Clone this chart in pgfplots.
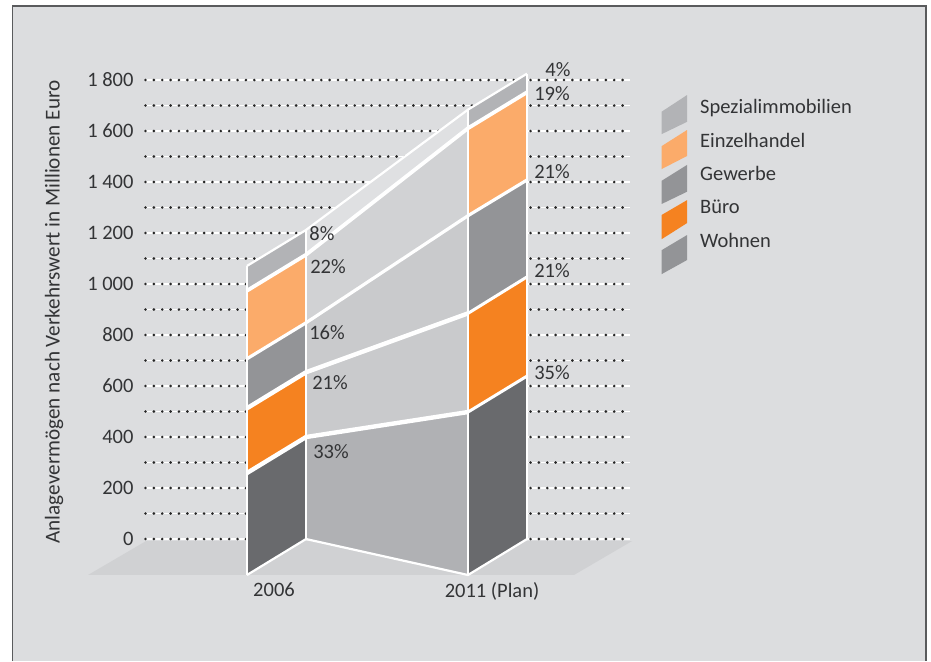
\documentclass[border=0pt]{standalone}
\usepackage{pgfplots}
\pgfplotsset{compat=1.18}
\usepackage{fontspec}
\setmainfont{Carlito}
\definecolor{panel}{HTML}{DCDDDF}
\definecolor{frameline}{HTML}{5A5B5D}
\definecolor{floorc}{HTML}{D0D1D3}
\definecolor{ink}{HTML}{333436}
\definecolor{wohnen}{HTML}{696A6D}
\definecolor{buero}{HTML}{F58220}
\definecolor{gewerbe}{HTML}{939497}
\definecolor{handel}{HTML}{FBAB6A}
\definecolor{spezial}{HTML}{B2B3B6}
\definecolor{wohnenR}{HTML}{B0B1B4}
\definecolor{bueroR}{HTML}{C9CACC}
\definecolor{gewerbeR}{HTML}{C9CACC}
\definecolor{handelR}{HTML}{D1D2D4}
\definecolor{spezialR}{HTML}{DFE0E2}
\newcommand{\lab}{\fontsize{20.5}{24}\selectfont\color{ink}}
\begin{document}
\begin{tikzpicture}[x=1pt,y=1pt]
\useasboundingbox (0,0) rectangle (931,661);
\fill[white] (0,0) rectangle (931,661);
\fill[panel] (12.5,0) rectangle (926,655);
\draw[frameline,line width=1.5pt] (12.5,0) -- (12.5,655) -- (926,655) -- (926,0);
\begin{axis}[
  at={(145pt,86pt)}, anchor=south west,
  scale only axis, width=485pt, height=494.96pt,
  xmin=145, xmax=630, ymin=-141, ymax=1800,
  clip=false,
  axis line style={draw=none},
  tick style={draw=none},
  ytick={0,200,...,1800},
  yticklabels={0,200,400,600,800,1 000,1 200,1 400,1 600,1 800},
  xtick={274,492},
  xticklabels={2006,2011 (Plan)},
  tick label style={font=\lab},
  yticklabel style={xshift=-8pt},
  xticklabel style={yshift=-4pt},
  ylabel={\fontsize{21.2}{24}\selectfont Anlagevermögen nach Verkehrswert in Millionen Euro},
  every axis y label/.style={at={(axis cs:54,890)},rotate=90,anchor=center,font=\lab},
]
% dotted rules every 100 units, black dots on a fine white line
\pgfplotsinvokeforeach{0,100,...,1800}{
  \addplot[white,line width=1.2pt] coordinates {(145,#1) (630,#1)};
  \addplot[black!85,line width=2.9pt,line cap=round,dash pattern=on 0pt off 8.37pt] coordinates {(145.5,#1) (630,#1)};
}

% floor
\addplot[fill=floorc,draw=none] coordinates {(88,-141) (574,-141) (632,-8) (146,-8)} --cycle;

% ribbons between the two dates
\addplot[fill=wohnenR,draw=none] coordinates {(306,0) (468,-141) (468,498) (306,400)} --cycle;
\addplot[fill=bueroR,draw=none] coordinates {(306,400) (468,498) (468,885) (306,654)} --cycle;
\addplot[fill=gewerbeR,draw=none] coordinates {(306,654) (468,885) (468,1268) (306,848)} --cycle;
\addplot[fill=handelR,draw=none] coordinates {(306,848) (468,1268) (468,1611) (306,1115)} --cycle;
\addplot[fill=spezialR,draw=none] coordinates {(306,1115) (468,1611) (468,1684) (306,1212)} --cycle;

% 2006 block
\addplot[fill=wohnen,draw=none] coordinates {(247,-141) (306,0) (306,400) (247,259)} --cycle;
\addplot[fill=buero,draw=none] coordinates {(247,259) (306,400) (306,654) (247,513)} --cycle;
\addplot[fill=gewerbe,draw=none] coordinates {(247,513) (306,654) (306,848) (247,707)} --cycle;
\addplot[fill=handel,draw=none] coordinates {(247,707) (306,848) (306,1115) (247,974)} --cycle;
\addplot[fill=spezial,draw=none] coordinates {(247,974) (306,1115) (306,1212) (247,1071)} --cycle;

% 2011 block
\addplot[fill=wohnen,draw=none] coordinates {(468,-141) (527,0) (527,639) (468,498)} --cycle;
\addplot[fill=buero,draw=none] coordinates {(468,498) (527,639) (527,1028) (468,885)} --cycle;
\addplot[fill=gewerbe,draw=none] coordinates {(468,885) (527,1028) (527,1408) (468,1268)} --cycle;
\addplot[fill=handel,draw=none] coordinates {(468,1268) (527,1408) (527,1752) (468,1611)} --cycle;
\addplot[fill=spezial,draw=none] coordinates {(468,1611) (527,1752) (527,1825) (468,1684)} --cycle;

% white separators between the segments
\addplot[white,line width=4.4pt] coordinates {(247,259) (306,400)};
\addplot[white,line width=4.4pt] coordinates {(247,513) (306,654)};
\addplot[white,line width=4.4pt] coordinates {(306,400) (468,498)};
\addplot[white,line width=4.4pt] coordinates {(306,654) (468,885)};
\addplot[white,line width=3pt] coordinates {(468,498) (527,639)};
\addplot[white,line width=3pt] coordinates {(468,885) (527,1028)};
\addplot[white,line width=3.2pt] coordinates {(247,707) (306,848) (468,1268) (527,1408)};
\addplot[white,line width=3.8pt] coordinates {(247,974) (306,1115) (468,1611) (527,1752)};
\addplot[white,line width=2.2pt] coordinates {(247,1071) (306,1212) (468,1684) (527,1825)};
\addplot[white,line width=2.2pt] coordinates {(247,-141) (306,0) (468,-141) (527,0)};
% vertical edges
\addplot[white,line width=2.4pt] coordinates {(247,-141) (247,1071)};
\addplot[white,line width=2.4pt] coordinates {(306,0) (306,1212)};
\addplot[white,line width=2.4pt] coordinates {(468,-141) (468,1684)};
\addplot[white,line width=2.4pt] coordinates {(527,0) (527,1825)};

% shares
\node[font=\lab] at (axis cs:322,1196) {8\%};
\node[font=\lab] at (axis cs:328,1067) {22\%};
\node[font=\lab] at (axis cs:327,808) {16\%};
\node[font=\lab] at (axis cs:330,612) {21\%};
\node[font=\lab] at (axis cs:331,341) {33\%};
\node[font=\lab] at (axis cs:558,1839) {4\%};
\node[font=\lab] at (axis cs:552,1745) {19\%};
\node[font=\lab] at (axis cs:552,1439) {21\%};
\node[font=\lab] at (axis cs:552,1051) {21\%};
\node[font=\lab] at (axis cs:552,651) {35\%};

% key
\addplot[fill=spezial,draw=none] coordinates {(661.7,1676) (687,1741) (687,1636) (661.7,1588)} --cycle;
\addplot[fill=handel,draw=none] coordinates {(661.7,1541) (687,1604) (687,1502) (661.7,1451)} --cycle;
\addplot[fill=gewerbe,draw=none] coordinates {(661.7,1405) (687,1467) (687,1362) (661.7,1314)} --cycle;
\addplot[fill=buero,draw=none] coordinates {(661.7,1271) (687,1329) (687,1239) (661.7,1176)} --cycle;
\addplot[fill=gewerbe,draw=none] coordinates {(661.7,1133) (687,1192) (687,1094) (661.7,1039)} --cycle;
\node[font=\lab,anchor=west,inner sep=0pt] at (axis cs:700,1690) {Spezialimmobilien};
\node[font=\lab,anchor=west,inner sep=0pt] at (axis cs:700,1565) {Einzelhandel};
\node[font=\lab,anchor=west,inner sep=0pt] at (axis cs:700,1435) {Gewerbe};
\node[font=\lab,anchor=west,inner sep=0pt] at (axis cs:700,1303) {Büro};
\node[font=\lab,anchor=west,inner sep=0pt] at (axis cs:700,1170) {Wohnen};
\end{axis}
\end{tikzpicture}
\end{document}
